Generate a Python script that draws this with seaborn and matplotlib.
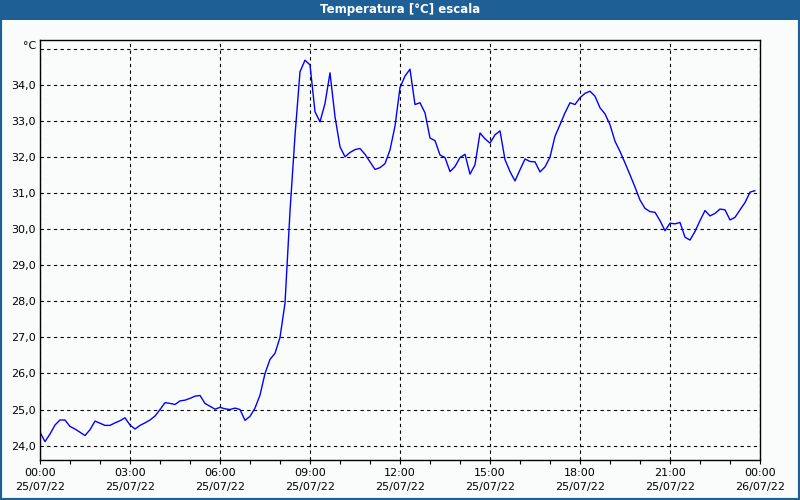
import matplotlib
matplotlib.use("Agg")
import matplotlib.pyplot as plt
import matplotlib.dates as mdates
from matplotlib.patches import Rectangle
import seaborn as sns
import pandas as pd

# Temperature readings every 10 minutes, 25/07/22 00:00 .. 23:50
temps = [
    24.37, 24.11, 24.32, 24.57, 24.71, 24.71, 24.53, 24.46, 24.37, 24.28,
    24.44, 24.68, 24.62, 24.56, 24.56, 24.63, 24.69, 24.77, 24.57, 24.46,
    24.56, 24.63, 24.71, 24.82, 25.00, 25.19, 25.17, 25.14, 25.24, 25.26,
    25.31, 25.37, 25.39, 25.17, 25.09, 25.01, 25.06, 25.02, 25.00, 25.04,
    25.00, 24.70, 24.81, 25.04, 25.40, 26.00, 26.39, 26.56, 27.00, 27.95,
    30.50, 32.60, 34.37, 34.69, 34.56, 33.26, 32.98, 33.49, 34.34, 33.12,
    32.29, 32.01, 32.13, 32.21, 32.24, 32.08, 31.87, 31.66, 31.71, 31.82,
    32.20, 32.86, 33.93, 34.25, 34.44, 33.46, 33.51, 33.23, 32.53, 32.46,
    32.06, 31.99, 31.60, 31.74, 31.99, 32.08, 31.53, 31.79, 32.67, 32.51,
    32.39, 32.62, 32.73, 31.93, 31.60, 31.34, 31.65, 31.95, 31.88, 31.87,
    31.59, 31.73, 32.00, 32.58, 32.90, 33.23, 33.51, 33.46, 33.65, 33.77,
    33.83, 33.69, 33.37, 33.20, 32.90, 32.44, 32.16, 31.84, 31.51, 31.17,
    30.81, 30.58, 30.49, 30.47, 30.24, 29.96, 30.17, 30.15, 30.19, 29.78,
    29.70, 29.94, 30.24, 30.52, 30.37, 30.44, 30.56, 30.54, 30.26, 30.33,
    30.54, 30.74, 31.03, 31.07,
]
start_time = "2022-07-25 00:00"
end_time = "2022-07-26 00:00"
y_ticks = list(range(24, 36))
y_labels = [f"{v},0" for v in range(24, 35)] + [""]
title = "Temperatura [°C] escala"
unit = "°C"

times = pd.date_range(start_time, periods=len(temps), freq="10min")
df = pd.DataFrame({"time": times, "temp": temps})

sns.set_theme(style="white")
plt.rcParams["font.family"] = ["DejaVu Sans"]

bg = "#FAFCFC"
bar_blue = "#1E6096"

fig = plt.figure(figsize=(8, 5), dpi=100, facecolor=bg)
ax = fig.add_axes([40 / 800, 1 - 460 / 500, 720 / 800, 420 / 500])
ax.set_facecolor(bg)

sns.lineplot(data=df, x="time", y="temp", ax=ax, color="#0000FF", linewidth=1)

ax.set_xlim(pd.Timestamp(start_time), pd.Timestamp(end_time))
ax.set_ylim(23.6, 35.25)
ax.set_yticks(y_ticks)
ax.set_yticklabels(y_labels)
ax.xaxis.set_major_locator(mdates.HourLocator(byhour=range(0, 24, 3)))
ax.xaxis.set_major_formatter(mdates.DateFormatter("%H:%M\n%d/%m/%y"))
ax.xaxis.set_minor_locator(mdates.HourLocator())

ax.set_xlabel("")
ax.set_ylabel("")
ax.grid(True, which="major", color="black", linestyle=(0, (3, 3)), linewidth=0.8)

for s in ax.spines.values():
    s.set_color("black")
    s.set_linewidth(1)
    s.set_visible(True)

ax.tick_params(axis="x", which="both", direction="out", length=3, width=0.8,
               color="black", labelsize=8, labelcolor="black", pad=3, bottom=True)
ax.tick_params(axis="y", which="both", length=0, labelsize=8, labelcolor="black", pad=3)

for lbl in ax.get_xticklabels():
    lbl.set_linespacing(1.45)

fig.text(36 / 800, 1 - 46 / 500, unit, ha="right", va="center", fontsize=8, color="black")

# title bar and border
fig.patches.append(Rectangle((0, 1 - 20 / 500), 1, 20 / 500, transform=fig.transFigure,
                             facecolor=bar_blue, edgecolor="none", zorder=0))
fig.patches.append(Rectangle((0, 0), 1, 1, transform=fig.transFigure, fill=False,
                             edgecolor=bar_blue, linewidth=3, zorder=1))
fig.text(0.5, 1 - 10 / 500, title, ha="center", va="center", fontsize=8.5,
         fontweight="bold", color="white")

fig.savefig("out.png", dpi=100, facecolor=bg)
